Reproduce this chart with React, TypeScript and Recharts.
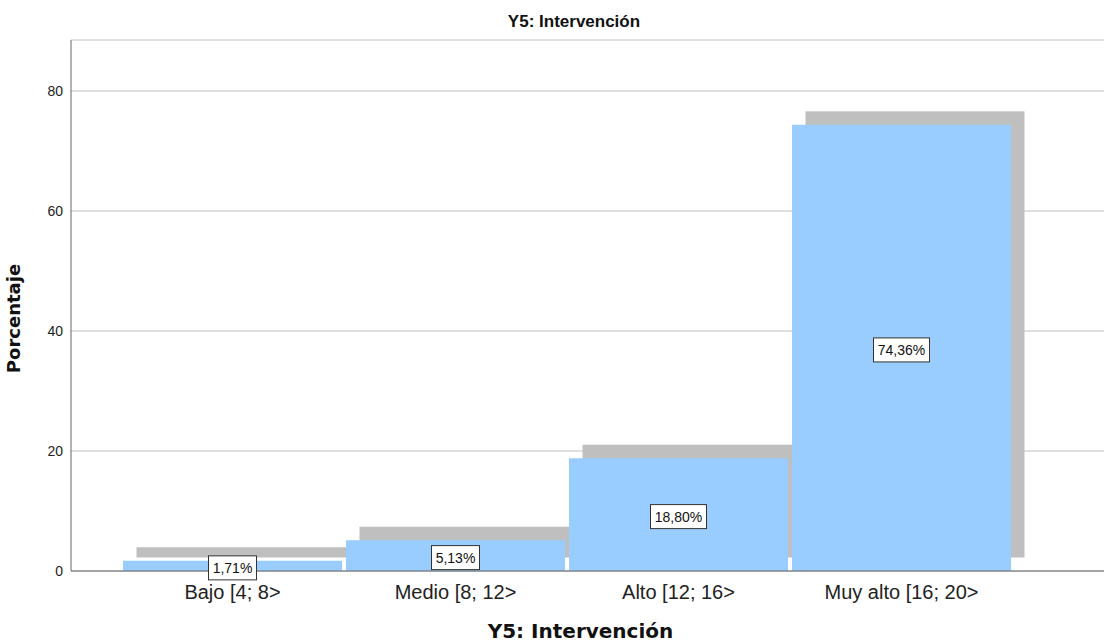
import { BarChart, Bar, XAxis, YAxis, CartesianGrid, LabelList } from "recharts";

const categorias = ["Bajo [4; 8>", "Medio [8; 12>", "Alto [12; 16>", "Muy alto [16; 20>"];
const porcentajes = [1.71, 5.13, 18.8, 74.36];
const ticksY = [0, 20, 40, 60, 80];

const data = categorias.map((categoria, i) => ({ categoria, porcentaje: porcentajes[i] }));

const SOMBRA = 13.5;

// sombra gris desplazada arriba a la derecha (estilo SPSS)
const Sombra = (props: any) => {
    const { x, y, width, height } = props;
    return <rect x={x + SOMBRA} y={y - SOMBRA} width={width} height={height} fill="#bfbfbf" />;
};

const Etiqueta = (props: any) => {
    const { x, y, width, height, value } = props;
    const txt = Number(value).toFixed(2).replace('.', ',') + '%';
    const w = txt.length * 8 + 8;
    const cx = x + width / 2;
    const cy = y + height / 2 + 2;
    return (
        <g>
            <rect x={cx - w / 2} y={cy - 12} width={w} height={24} fill="#fff" stroke="#333" strokeWidth={1} />
            <text x={cx} y={cy + 5} textAnchor="middle" fontSize={14} fill="#111" fontFamily="'Liberation Sans', Arial, sans-serif">{txt}</text>
        </g>
    );
};

export default function App() {
    return (
        <div style={{ position: 'absolute', left: 0, top: 0, width: 1105, height: 643, background: '#fff' }}>
            <svg width={1105} height={40} style={{ position: 'absolute', left: 0, top: 0 }}>
                <text x={574} y={27} textAnchor="middle" fontSize={17} fontWeight="bold" fill="#111" fontFamily="'Liberation Sans', Arial, sans-serif">Y5: Intervención</text>
            </svg>
            <BarChart width={1105} height={643} data={data} margin={{ top: 40, right: 1, bottom: 0, left: 0 }} barCategoryGap={2}>
                <CartesianGrid vertical={false} stroke="#c0c0c0" />
                <XAxis xAxisId="sombra" dataKey="categoria" hide padding={{ left: 50, right: 91 }} />
                <XAxis xAxisId="main" dataKey="categoria" height={72} padding={{ left: 50, right: 91 }}
                    tickLine={false} axisLine={{ stroke: '#666' }} tickMargin={8}
                    tick={{ fontSize: 20, fill: '#222', fontFamily: "'Liberation Sans', Arial, sans-serif" }}
                    label={{ value: 'Y5: Intervención', position: 'insideBottom', offset: 5, dx: -7, fontSize: 20, fontWeight: 'bold', fill: '#111', fontFamily: "'DejaVu Sans', sans-serif" }} />
                <YAxis width={71} domain={[0, 88.5]} ticks={ticksY} tickLine={false} axisLine={{ stroke: '#666' }}
                    tick={{ fontSize: 14, fill: '#222', fontFamily: "'Liberation Sans', Arial, sans-serif" }}
                    label={{ value: 'Porcentaje', angle: -90, position: 'insideLeft', offset: 14, dy: 13, fontSize: 18, fontWeight: 'bold', fill: '#111', fontFamily: "'DejaVu Sans', sans-serif", style: { textAnchor: 'middle' } }} />
                <Bar xAxisId="sombra" dataKey="porcentaje" shape={<Sombra />} isAnimationActive={false} />
                <Bar xAxisId="main" dataKey="porcentaje" fill="#99ccff" isAnimationActive={false}>
                    <LabelList dataKey="porcentaje" content={<Etiqueta />} />
                </Bar>
            </BarChart>
        </div>
    );
}
